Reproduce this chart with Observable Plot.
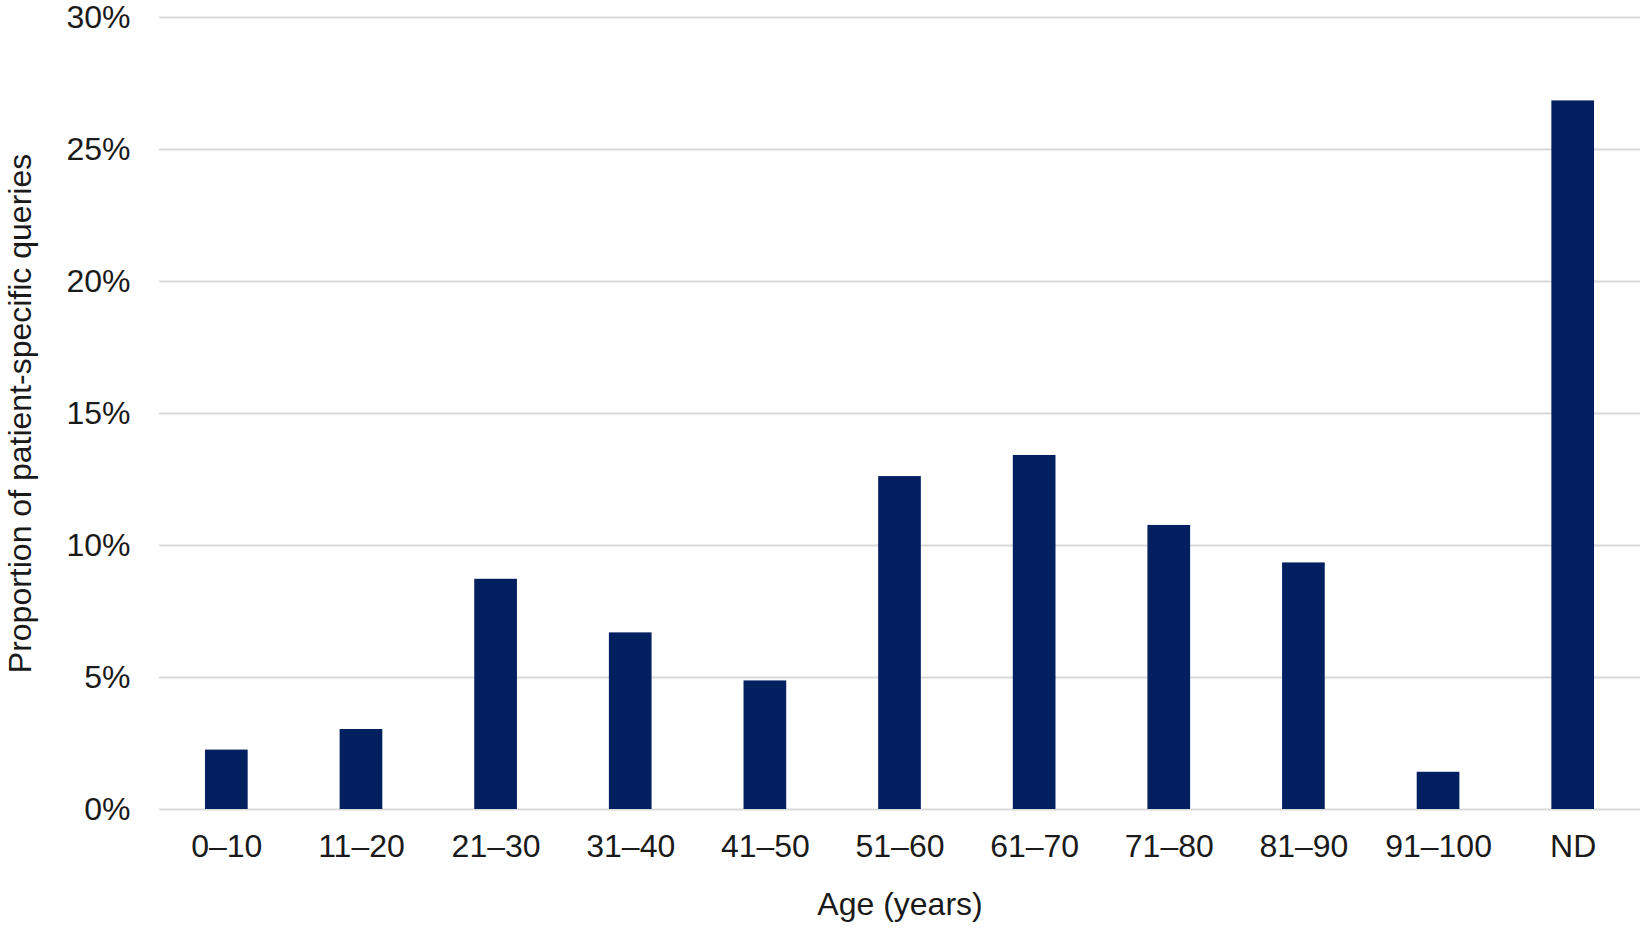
<!DOCTYPE html>
<html><head><meta charset="utf-8">
<script src="https://cdn.jsdelivr.net/npm/d3@7"></script>
<script src="https://cdn.jsdelivr.net/npm/@observablehq/plot@0.6"></script>
<style>
html,body{margin:0;padding:0;background:#fff;}
</style></head><body><div id="chart"></div>
<script>
const ageGroups = ["0–10","11–20","21–30","31–40","41–50","51–60","61–70","71–80","81–90","91–100","ND"];
const proportions = [2.25,3.03,8.72,6.69,4.87,12.61,13.41,10.76,9.34,1.41,26.84];
const yTicks = [0,5,10,15,20,25,30];
const xLabel = "Age (years)";
const yLabel = "Proportion of patient-specific queries";

const data = ageGroups.map((age, i) => ({age, value: proportions[i]}));

const chart = Plot.plot({
  width: 1652, height: 931,
  marginLeft: 159, marginRight: 12, marginTop: 17, marginBottom: 122,
  style: {fontFamily: "Arial, 'Liberation Sans', sans-serif", fontSize: "32px", color: "#1a1a1a", background: "#fff", overflow: "visible"},
  x: {domain: ageGroups, paddingInner: 0.683, paddingOuter: 0.3415, round: false},
  y: {domain: [0, 30], ticks: yTicks},
  marks: [
    Plot.gridY(yTicks, {stroke: "#d9d9d9", strokeWidth: 2, strokeOpacity: 1}),
    Plot.barY(data, {x: "age", y: "value", fill: "#022060"}),
    Plot.axisX({tickSize: 0, tickPadding: 25, label: xLabel, labelAnchor: "center", labelArrow: "none", labelOffset: 105}),
    Plot.axisY(yTicks, {tickSize: 0, tickPadding: 29, tickFormat: d => d + "%", label: yLabel, labelAnchor: "center", labelArrow: "none", labelOffset: 151})
  ]
});
document.getElementById("chart").appendChild(chart);
</script>
</body></html>
